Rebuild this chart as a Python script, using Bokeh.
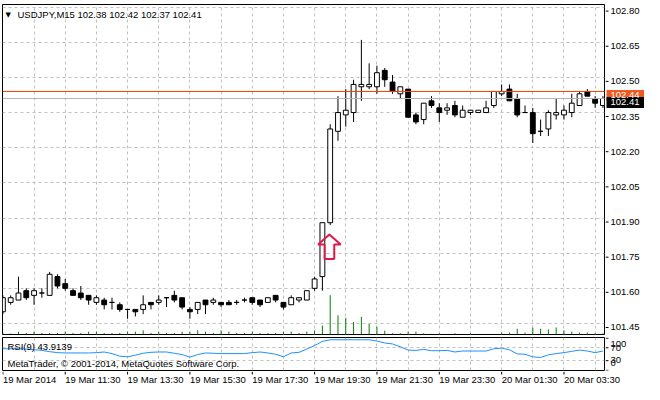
import numpy as np
import pandas as pd
from bokeh.plotting import figure
from bokeh.layouts import column, row
from bokeh.models import (ColumnDataSource, Range1d, FixedTicker, Grid, Span, Label)
from bokeh.core.properties import value
from bokeh.embed import file_html
from bokeh.resources import INLINE

# ---------------- data ----------------
symbol = "USDJPY,M15"
first_bar_time = "2014-03-19 09:30"

opens = [
    101.50, 101.54, 101.55, 101.59, 101.57, 101.58, 101.57, 101.65, 101.62, 101.59,
    101.58, 101.57, 101.54, 101.55, 101.54, 101.53, 101.51, 101.51, 101.51, 101.54,
    101.54, 101.56, 101.57, 101.56, 101.51, 101.51, 101.55, 101.54, 101.54, 101.54,
    101.54, 101.55, 101.56, 101.55, 101.54, 101.57, 101.54, 101.53, 101.55, 101.55,
    101.60, 101.65, 101.88, 102.27, 102.34, 102.35, 102.46, 102.46, 102.46, 102.53,
    102.48, 102.43, 102.45, 102.34, 102.32, 102.40, 102.37, 102.36, 102.38, 102.33,
    102.35, 102.35, 102.35, 102.38, 102.43, 102.45, 102.41, 102.35, 102.35, 102.27,
    102.28, 102.34, 102.34, 102.35, 102.38, 102.44, 102.41, 102.38]
highs = [
    101.57, 101.57, 101.65, 101.60, 101.60, 101.60, 101.67, 101.66, 101.64, 101.60,
    101.61, 101.57, 101.57, 101.56, 101.56, 101.54, 101.51, 101.51, 101.57, 101.54,
    101.57, 101.56, 101.59, 101.56, 101.52, 101.54, 101.55, 101.56, 101.54, 101.55,
    101.55, 101.56, 101.56, 101.55, 101.56, 101.57, 101.54, 101.57, 101.56, 101.59,
    101.65, 101.88, 102.30, 102.42, 102.45, 102.49, 102.66, 102.56, 102.55, 102.54,
    102.51, 102.46, 102.45, 102.35, 102.39, 102.42, 102.39, 102.39, 102.40, 102.38,
    102.36, 102.36, 102.40, 102.44, 102.47, 102.47, 102.43, 102.38, 102.37, 102.32,
    102.36, 102.41, 102.38, 102.43, 102.44, 102.45, 102.42, 102.42]
lows = [
    101.49, 101.53, 101.55, 101.55, 101.53, 101.56, 101.57, 101.60, 101.59, 101.57,
    101.55, 101.53, 101.53, 101.51, 101.51, 101.50, 101.47, 101.48, 101.49, 101.51,
    101.53, 101.52, 101.54, 101.51, 101.47, 101.49, 101.49, 101.53, 101.52, 101.53,
    101.53, 101.54, 101.53, 101.52, 101.54, 101.54, 101.51, 101.53, 101.54, 101.55,
    101.59, 101.59, 101.87, 102.23, 102.29, 102.31, 102.40, 102.45, 102.43, 102.46,
    102.43, 102.41, 102.33, 102.30, 102.30, 102.37, 102.31, 102.34, 102.33, 102.33,
    102.34, 102.35, 102.35, 102.37, 102.42, 102.40, 102.33, 102.35, 102.22, 102.25,
    102.25, 102.32, 102.32, 102.33, 102.38, 102.42, 102.37, 102.37]
closes = [
    101.56, 101.56, 101.58, 101.56, 101.59, 101.58, 101.66, 101.61, 101.60, 101.57,
    101.56, 101.55, 101.56, 101.53, 101.54, 101.51, 101.51, 101.50, 101.53, 101.53,
    101.55, 101.56, 101.55, 101.52, 101.50, 101.54, 101.53, 101.55, 101.53, 101.53,
    101.54, 101.55, 101.54, 101.53, 101.56, 101.55, 101.52, 101.56, 101.56, 101.59,
    101.64, 101.88, 102.28, 102.35, 102.36, 102.47, 102.47, 102.47, 102.52, 102.49,
    102.44, 102.46, 102.33, 102.31, 102.39, 102.38, 102.35, 102.37, 102.34, 102.36,
    102.36, 102.36, 102.37, 102.44, 102.44, 102.40, 102.34, 102.35, 102.26, 102.27,
    102.35, 102.35, 102.36, 102.39, 102.43, 102.42, 102.39, 102.41]
volumes = [
    60, 30, 90, 50, 90, 50, 50, 50, 90, 50,
    50, 90, 90, 50, 50, 50, 90, 90, 130, 50,
    90, 50, 50, 90, 90, 130, 90, 50, 130, 90,
    50, 50, 90, 50, 50, 50, 90, 90, 50, 90,
    130, 280, 1230, 600, 520, 390, 550, 330, 240, 120,
    40, 40, 90, 90, 40, 20, 40, 20, 40, 20,
    40, 20, 20, 20, 60, 60, 180, 60, 210, 180,
    160, 220, 130, 90, 60, 60, 40, 40]
rsi = [
    67, 67, 67, 66, 64, 62, 58, 55, 54, 54,
    54, 54, 55, 57, 52, 44, 42, 47, 53, 56,
    57, 57, 53, 49, 41, 49, 54, 53, 52, 52,
    52, 52, 55, 57, 54, 50, 42, 54, 56, 66,
    77, 90, 95, 95, 95, 95, 95, 95, 91, 85,
    82, 73, 63, 62, 65, 61, 61, 62, 57, 60,
    60, 60, 60, 67, 69, 64, 51, 50, 42, 40,
    48, 52, 55, 59, 63, 60, 55, 60]
rsi_period = 9
rsi_last = 43.9139
bid_price = 102.41
ask_price = 102.44
signal_bar = 41.9
signal_price = 101.83

price_ticks = [101.45, 101.60, 101.75, 101.90, 102.05, 102.20, 102.35, 102.50, 102.65, 102.80]
rsi_ticks = [0, 30, 70, 100]
rsi_tick_labels = ["0", "30", "70", "100"]
rsi_levels = [30, 70]
time_tick_bars = [0, 8, 16, 24, 32, 40, 48, 56, 64, 72]
time_tick_labels = ["19 Mar 2014", "19 Mar 11:30", "19 Mar 13:30", "19 Mar 15:30",
                    "19 Mar 17:30", "19 Mar 19:30", "19 Mar 21:30", "19 Mar 23:30",
                    "20 Mar 01:30", "20 Mar 03:30"]
copyright_text = "MetaTrader, \u00a9 2001-2014, MetaQuotes Software Corp."

# ---------------- styles / layout ----------------
FONT_NAME = "Liberation Sans"
FONT = value(FONT_NAME)
FS = "9.5px"
GRID = "#c0c0c0"
LEFT_B = 2
FRAME_W = 602
SIDE_W = 39
MAIN_H = 330
RSI_H = 33
STRIP_H = 13
ASK_TAG = "#f05a1e"
ASK_LINE = "#ff3c00"

bars = list(range(len(opens)))
times = pd.date_range(first_bar_time, periods=len(bars), freq="15min")
bull = [c >= o for o, c in zip(opens, closes)]
src = ColumnDataSource(dict(
    x=bars, t=times, o=opens, h=highs, l=lows, c=closes, v=volumes, rsi=rsi,
    top=[max(o, c) for o, c in zip(opens, closes)],
    bottom=[min(o, c) for o, c in zip(opens, closes)],
    fill=["white" if b else "black" for b in bull],
))

x_start, x_end = -0.05, 77.2
xr = Range1d(x_start, x_end)
grid_bars = list(range(4, len(bars), 4))

Y0, Y1 = 101.403, 102.811
py = (Y1 - Y0) / MAIN_H          # price per pixel
R0, R1 = -0.5, 102.0


def base_fig(**kw):
    p = figure(output_backend="svg", toolbar_location=None,
               x_axis_location=None, y_axis_location=None, **kw)
    p.grid.visible = False
    p.background_fill_color = "white"
    p.border_fill_color = "white"
    return p


# ---------------- main pane ----------------
main = base_fig(frame_width=FRAME_W, frame_height=MAIN_H, x_range=xr,
                y_range=Range1d(Y0, Y1),
                min_border_left=LEFT_B, min_border_right=1,
                min_border_top=4, min_border_bottom=1)
main.outline_line_color = "black"
main.add_layout(Grid(dimension=0, ticker=FixedTicker(ticks=grid_bars),
                     grid_line_color=GRID, grid_line_dash="3 3"))
main.add_layout(Grid(dimension=1, ticker=FixedTicker(ticks=price_ticks),
                     grid_line_color=GRID, grid_line_dash="3 3"))

main.extra_y_ranges = {"vol": Range1d(0, 344 * 30)}
main.segment(x0="x", y0=0, x1="x", y1="v", source=src, y_range_name="vol",
             line_color="#008000", line_width=1)

main.add_layout(Span(location=bid_price, dimension="width", line_color="#b4b4b4", line_width=1))
main.add_layout(Span(location=ask_price, dimension="width", line_color=ASK_LINE, line_width=1))

main.segment(x0="x", y0="l", x1="x", y1="h", source=src, line_color="black", line_width=1)
main.vbar(x="x", width=0.62, top="top", bottom="bottom", source=src,
          fill_color="fill", line_color="black", line_width=1)

# signal arrow (up-arrow object)
hw, hh, sw, sl = 1.45, 0.043, 0.62, 0.105
ax_ = [signal_bar, signal_bar + hw, signal_bar + sw, signal_bar + sw,
       signal_bar - sw, signal_bar - sw, signal_bar - hw]
ay_ = [signal_price, signal_price - hh, signal_price - hh, signal_price - sl,
       signal_price - sl, signal_price - hh, signal_price - hh]
main.patch(ax_, ay_, fill_color=None, line_color="#e0194a", line_width=2)

main.add_layout(Label(x=3, y=MAIN_H - 10, x_units="screen", y_units="screen", text="\u25bc",
                      text_font="DejaVu Sans", text_font_size="7px",
                      text_baseline="middle", text_color="black"))
main.add_layout(Label(x=15, y=MAIN_H - 10, x_units="screen", y_units="screen",
                      text=f"{symbol}  {opens[-1]:.2f} {highs[-1]:.2f} {lows[-1]:.2f} {closes[-1]:.2f}",
                      text_font=FONT_NAME, text_font_size=FS, text_baseline="middle",
                      text_color="black"))

# ---------------- main price scale (right) ----------------
ms = base_fig(frame_width=SIDE_W, frame_height=MAIN_H + 4, x_range=Range1d(0, SIDE_W),
              y_range=Range1d(Y0, Y1 + 4 * py),
              min_border_left=0, min_border_right=0, min_border_top=0, min_border_bottom=1)
ms.outline_line_color = None
n = len(price_ticks)
ms.segment(x0=[0] * n, y0=price_ticks, x1=[3] * n, y1=price_ticks, line_color="black")
ms.text(x=[5] * n, y=price_ticks, text=[f"{t:.2f}" for t in price_ticks],
        text_align="left", text_baseline="middle", text_font=FONT,
        text_font_size=FS, text_color="black")
tag_prices = [ask_price, bid_price]
tag_colors = [ASK_TAG, "black"]
ms.quad(left=[1, 1], right=[SIDE_W, SIDE_W],
        bottom=[p - 5.5 * py for p in tag_prices], top=[p + 5.5 * py for p in tag_prices],
        fill_color=tag_colors, line_color=None)
ms.text(x=[5, 5], y=tag_prices, text=[f"{p:.2f}" for p in tag_prices],
        text_align="left", text_baseline="middle", text_font=FONT,
        text_font_size=FS, text_color="white")

# ---------------- RSI pane ----------------
rp = base_fig(frame_width=FRAME_W, frame_height=RSI_H, x_range=xr,
              y_range=Range1d(R0, R1),
              min_border_left=LEFT_B, min_border_right=1,
              min_border_top=2, min_border_bottom=1)
rp.outline_line_color = "black"
rp.add_layout(Grid(dimension=0, ticker=FixedTicker(ticks=grid_bars),
                   grid_line_color=GRID, grid_line_dash="3 3"))
rp.add_layout(Grid(dimension=1, ticker=FixedTicker(ticks=rsi_levels),
                   grid_line_color=GRID, grid_line_dash="3 3"))
rp.line(x="x", y="rsi", source=src, line_color="#1e90ff", line_width=1)
rp.add_layout(Label(x=5, y=RSI_H - 9, x_units="screen", y_units="screen",
                    text=f"RSI({rsi_period}) {rsi_last:.4f}", text_font=FONT_NAME,
                    text_font_size=FS, text_baseline="middle", text_color="black"))
rp.add_layout(Label(x=5, y=7, x_units="screen", y_units="screen",
                    text=copyright_text, text_font=FONT_NAME,
                    text_font_size=FS, text_baseline="middle", text_color="black"))

rs = base_fig(frame_width=SIDE_W, frame_height=RSI_H, x_range=Range1d(0, SIDE_W),
              y_range=Range1d(R0, R1),
              min_border_left=0, min_border_right=0, min_border_top=2, min_border_bottom=1)
rs.outline_line_color = None
k = len(rsi_ticks)
rs.segment(x0=[0] * k, y0=rsi_ticks, x1=[3] * k, y1=rsi_ticks, line_color="black")
rs.text(x=[5] * k, y=rsi_ticks, text=rsi_tick_labels, y_offset=[-7, -1, 0, 6],
        text_align="left", text_baseline="middle", text_font=FONT,
        text_font_size=FS, text_color="black")

# ---------------- time axis strip ----------------
STRIP_W = FRAME_W + 1 + SIDE_W
sr = Range1d(x_start, x_start + (x_end - x_start) * STRIP_W / FRAME_W)
st = base_fig(frame_width=STRIP_W, frame_height=STRIP_H, x_range=sr, y_range=Range1d(0, STRIP_H),
              min_border_left=LEFT_B, min_border_right=0,
              min_border_top=0, min_border_bottom=0)
st.outline_line_color = None
m = len(time_tick_bars)
st.segment(x0=time_tick_bars, y0=[STRIP_H] * m, x1=time_tick_bars,
           y1=[STRIP_H - 3] * m, line_color="black", line_width=1)
st.text(x=time_tick_bars, y=[5] * m, text=time_tick_labels,
        text_align="left", text_baseline="middle", text_font=FONT,
        text_font_size=FS, text_color="black")

layout = column(row(main, ms, spacing=0), row(rp, rs, spacing=0), st, spacing=0)
open("out.html", "w").write(file_html(layout, INLINE))
